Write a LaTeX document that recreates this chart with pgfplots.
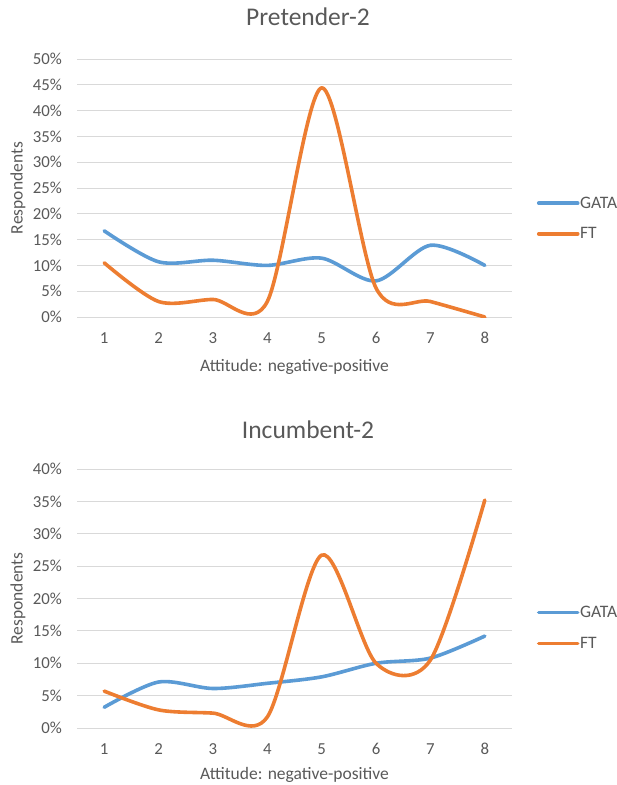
\documentclass[border=0pt]{standalone}
\usepackage{pgfplots}
\pgfplotsset{compat=1.18}
\usepackage{fontspec}
\setmainfont{Carlito}

\definecolor{gblue}{HTML}{5B9BD5}
\definecolor{gorange}{HTML}{ED7D31}
\definecolor{txt}{HTML}{595959}
\definecolor{gridc}{HTML}{D9D9D9}

\pgfplotsset{
  excelline/.style={
    scale only axis,
    width=435bp,
    xmin=0.5, xmax=8.5,
    ymin=0,
    xtick={1,...,8},
    axis line style={draw=none},
    major tick length=0pt,
    ymajorgrids,
    grid style={gridc, line width=0.9bp},
    tick label style={font=\fontsize{16.8bp}{18bp}\selectfont, text=txt},
    /pgf/number format/assume math mode=true,
    yticklabel={\pgfmathprintnumber{\tick}\%},
    yticklabel style={anchor=east, inner sep=0pt, xshift=-15bp},
    xticklabel style={anchor=center, inner sep=0pt, yshift=-21bp},
    label style={font=\fontsize{17.5bp}{19bp}\selectfont, text=txt},
    ylabel={Respondents},
    xlabel={Attitude: negative-positive},
    ylabel style={at={(axis description cs:-0.1356,0.5)}, anchor=center},
    title style={font=\fontsize{25.5bp}{28bp}\selectfont, text=txt, anchor=center},
    legend style={draw=none, fill=none, font=\fontsize{17.5bp}{19bp}\selectfont,
      text=txt, anchor=west, row sep=17bp,
      nodes={inner sep=0.5bp}},
    legend cell align=left,
    legend image code/.code={\draw[#1] (0bp,0bp) -- (39bp,0bp);},
    every axis plot/.append style={smooth, tension=0.5, line width=3.6bp,
      line cap=round, no markers},
  }
}

\begin{document}
\begin{tikzpicture}
\useasboundingbox (-77bp,-468bp) rectangle (540bp,317bp);

\begin{axis}[
  excelline,
  height=258bp,
  ymax=50, ytick={0,5,...,50},
  title={Pretender-2},
  title style={at={(axis description cs:0.531,1.140)}},
  xlabel style={at={(axis description cs:0.5,-0.194)}, anchor=center},
  legend style={at={(axis description cs:1.050,0.382)}},
]
\addplot[gblue] coordinates {
(1,16.7) (2,10.7) (3,11.0) (4,10.0) (5,11.4) (6,7.0) (7,13.9) (8,10.0)
};
\addlegendentry{GATA}
\addplot[gorange] coordinates {
(1,10.5) (2,3.0) (3,3.4) (4,3.0) (5,44.4) (6,5.6) (7,3.0) (8,0.0)
};
\addlegendentry{FT}
\end{axis}

\begin{axis}[
  excelline,
  at={(0,-411bp)},
  height=259bp,
  ymax=40, ytick={0,5,...,40},
  title={Incumbent-2},
  title style={at={(axis description cs:0.531,1.128)}},
  xlabel style={at={(axis description cs:0.5,-0.183)}, anchor=center},
  legend style={at={(axis description cs:1.050,0.386)}},
]
\addplot[gblue] coordinates {
(1,3.2) (2,7.1) (3,6.1) (4,6.9) (5,7.9) (6,10.0) (7,10.8) (8,14.2)
};
\addlegendentry{GATA}
\addplot[gorange] coordinates {
(1,5.7) (2,2.8) (3,2.3) (4,1.7) (5,26.7) (6,10.0) (7,10.5) (8,35.2)
};
\addlegendentry{FT}
\end{axis}
\end{tikzpicture}
\end{document}
